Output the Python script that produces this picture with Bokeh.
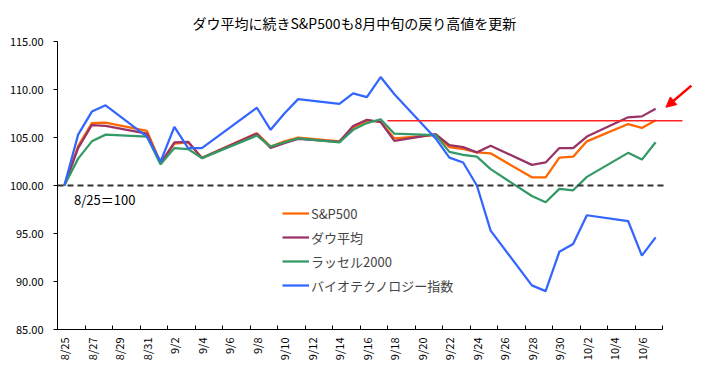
import pandas as pd
from math import pi
from bokeh.plotting import figure
from bokeh.models import (FixedTicker, Label, Arrow, NormalHead, Legend,
                          LegendItem, Range1d, ColumnDataSource)
from bokeh.embed import file_html
from bokeh.resources import INLINE

# ---- data (index, 8/25 = 100) ----
dates = ["8/25", "8/26", "8/27", "8/28", "8/31", "9/1", "9/2", "9/3", "9/4",
         "9/8", "9/9", "9/10", "9/11", "9/14", "9/15", "9/16", "9/17", "9/18",
         "9/21", "9/22", "9/23", "9/24", "9/25", "9/28", "9/29", "9/30",
         "10/1", "10/2", "10/5", "10/6", "10/7"]
sp500 = [100.0, 104.1, 106.5, 106.55, 105.7, 102.35, 104.35, 104.5, 102.9,
         105.45, 104.05, 104.6, 105.0, 104.6, 106.05, 106.75, 106.65, 104.9,
         105.25, 104.0, 103.8, 103.45, 103.35, 100.85, 100.85, 102.9,
         103.0, 104.6, 106.4, 106.0, 106.8]
dow = [100.0, 103.9, 106.3, 106.2, 105.4, 102.3, 104.5, 104.55, 102.85,
       105.4, 103.9, 104.4, 104.85, 104.55, 106.2, 106.85, 106.6, 104.65,
       105.35, 104.2, 104.0, 103.45, 104.15, 102.15, 102.4, 103.9,
       103.9, 105.1, 107.1, 107.2, 108.0]
russell = [100.0, 102.8, 104.6, 105.3, 105.1, 102.2, 103.9, 103.8, 102.85,
           105.2, 104.05, 104.5, 104.9, 104.5, 105.8, 106.5, 106.9, 105.4,
           105.25, 103.5, 103.2, 103.0, 101.7, 98.9, 98.25, 99.65,
           99.5, 100.9, 103.4, 102.7, 104.5]
biotech = [100.0, 105.3, 107.7, 108.35, 105.1, 102.5, 106.1, 103.9, 103.9,
           108.1, 105.8, 107.5, 109.0, 108.5, 109.6, 109.2, 111.3, 109.5,
           104.9, 102.9, 102.4, 100.0, 95.3, 89.6, 89.0, 93.1,
           93.9, 96.9, 96.3, 92.7, 94.6]
tick_labels = ["8/25", "8/27", "8/29", "8/31", "9/2", "9/4", "9/6", "9/8",
               "9/10", "9/12", "9/14", "9/16", "9/18", "9/20", "9/22", "9/24",
               "9/26", "9/28", "9/30", "10/2", "10/4", "10/6"]
y_ticks = [85, 90, 95, 100, 105, 110, 115]
series_names = ["S&P500", "ダウ平均", "ラッセル2000", "バイオテクノロジー指数"]
series_values = [sp500, dow, russell, biotech]
colors = ["#FF6600", "#993366", "#339966", "#3366FF"]
base_value = 100
title_text = "ダウ平均に続きS&P500も8月中旬の戻り高値を更新"
base_text = "8/25＝100"

YEAR = "2015/"
start = pd.Timestamp(YEAR + dates[0])
def day_index(d):
    return (pd.Timestamp(YEAR + d) - start).days

x = [day_index(d) for d in dates]
tick_pos = [day_index(t) for t in tick_labels]
last_day = day_index("10/7")

FONT = "Noto Sans CJK JP"

# axis spans 44 day slots over 605 px; frame extended to the right for annotations
axis_px = 605
px_per_day = axis_px / (last_day + 1)
frame_w = 639
x_end = -0.5 + frame_w / px_per_day

p = figure(frame_width=frame_w, frame_height=288, output_backend="svg",
           toolbar_location=None, x_range=Range1d(-0.5, x_end),
           y_range=Range1d(85, 115), min_border_left=57, min_border_top=41,
           min_border_right=6, min_border_bottom=44, title=title_text)
p.outline_line_color = None
p.grid.visible = False
p.background_fill_color = "white"
p.border_fill_color = "white"

p.title.align = "left"
p.title.offset = 135
p.title.text_font = FONT
p.title.text_font_size = "14px"
p.title.text_font_style = "normal"
p.title.text_color = "#000000"
p.title.standoff = 18

# x axis
xt = FixedTicker(ticks=tick_pos, minor_ticks=[t - 0.5 for t in tick_pos] + [last_day + 0.5])
p.xaxis.ticker = xt
p.xaxis.bounds = (-0.5, last_day + 0.5)
p.xaxis.major_label_overrides = {pos: lab for pos, lab in zip(tick_pos, tick_labels)}
p.xaxis.major_label_orientation = pi / 2
p.xaxis.major_tick_out = 0
p.xaxis.major_tick_in = 0
p.xaxis.minor_tick_out = 0
p.xaxis.minor_tick_in = 4
p.xaxis.minor_tick_line_color = "black"
p.xaxis.axis_line_color = "black"
p.xaxis.major_label_standoff = 8
p.xaxis.major_label_text_font = FONT
p.xaxis.major_label_text_font_size = "11px"
p.xaxis.major_label_text_color = "#000000"

# y axis
p.yaxis.ticker = FixedTicker(ticks=y_ticks, minor_ticks=[])
p.yaxis.major_label_overrides = {v: f"{v:.2f}" for v in y_ticks}
p.yaxis.major_tick_out = 4
p.yaxis.major_tick_in = 0
p.yaxis.major_tick_line_color = "black"
p.yaxis.axis_line_color = "black"
p.yaxis.major_label_standoff = 10
p.yaxis.major_label_text_font = FONT
p.yaxis.major_label_text_font_size = "11px"
p.yaxis.major_label_text_color = "#000000"

# base line (8/25 = 100)
p.add_layout(Arrow(x_start=-0.5, y_start=base_value, x_end=last_day + 0.85,
                   y_end=base_value, end=None, line_color="#333333",
                   line_width=2, line_dash="6 4"))
p.add_layout(Label(x=0.7, y=base_value - 1.5, text=base_text, text_font=FONT,
                   text_font_size="13px", text_baseline="middle", text_color="#000000"))

items = []
for name, vals, c in zip(series_names, series_values, colors):
    src = ColumnDataSource(dict(x=x, y=vals))
    r = p.line("x", "y", source=src, line_color=c, line_width=2.25)
    items.append(LegendItem(label=name, renderers=[r]))

# reference high line (S&P500 mid-Sept high)
peak = sp500[dates.index("9/16")]
p.add_layout(Arrow(x_start=day_index("9/17") + 0.5, y_start=peak, x_end=last_day + 1.95,
                   y_end=peak, end=None, line_color="#FF2222", line_width=1.5))
# arrow pointing to latest Dow value
p.add_layout(Arrow(x_start=last_day + 2.6, y_start=dow[-1] + 2.4,
                   x_end=last_day + 0.75, y_end=dow[-1] + 0.15,
                   end=NormalHead(size=10, fill_color="#FF0000", line_color="#FF0000"),
                   line_color="#FF0000", line_width=2.5))

legend = Legend(items=items, location=(225, 34), padding=0, margin=0,
                border_line_color=None, background_fill_alpha=0,
                label_text_font=FONT, label_text_font_size="13px",
                glyph_width=27, glyph_height=20, label_height=20, spacing=4,
                label_standoff=2)
p.add_layout(legend)

open("out.html", "w").write(file_html(p, INLINE))
